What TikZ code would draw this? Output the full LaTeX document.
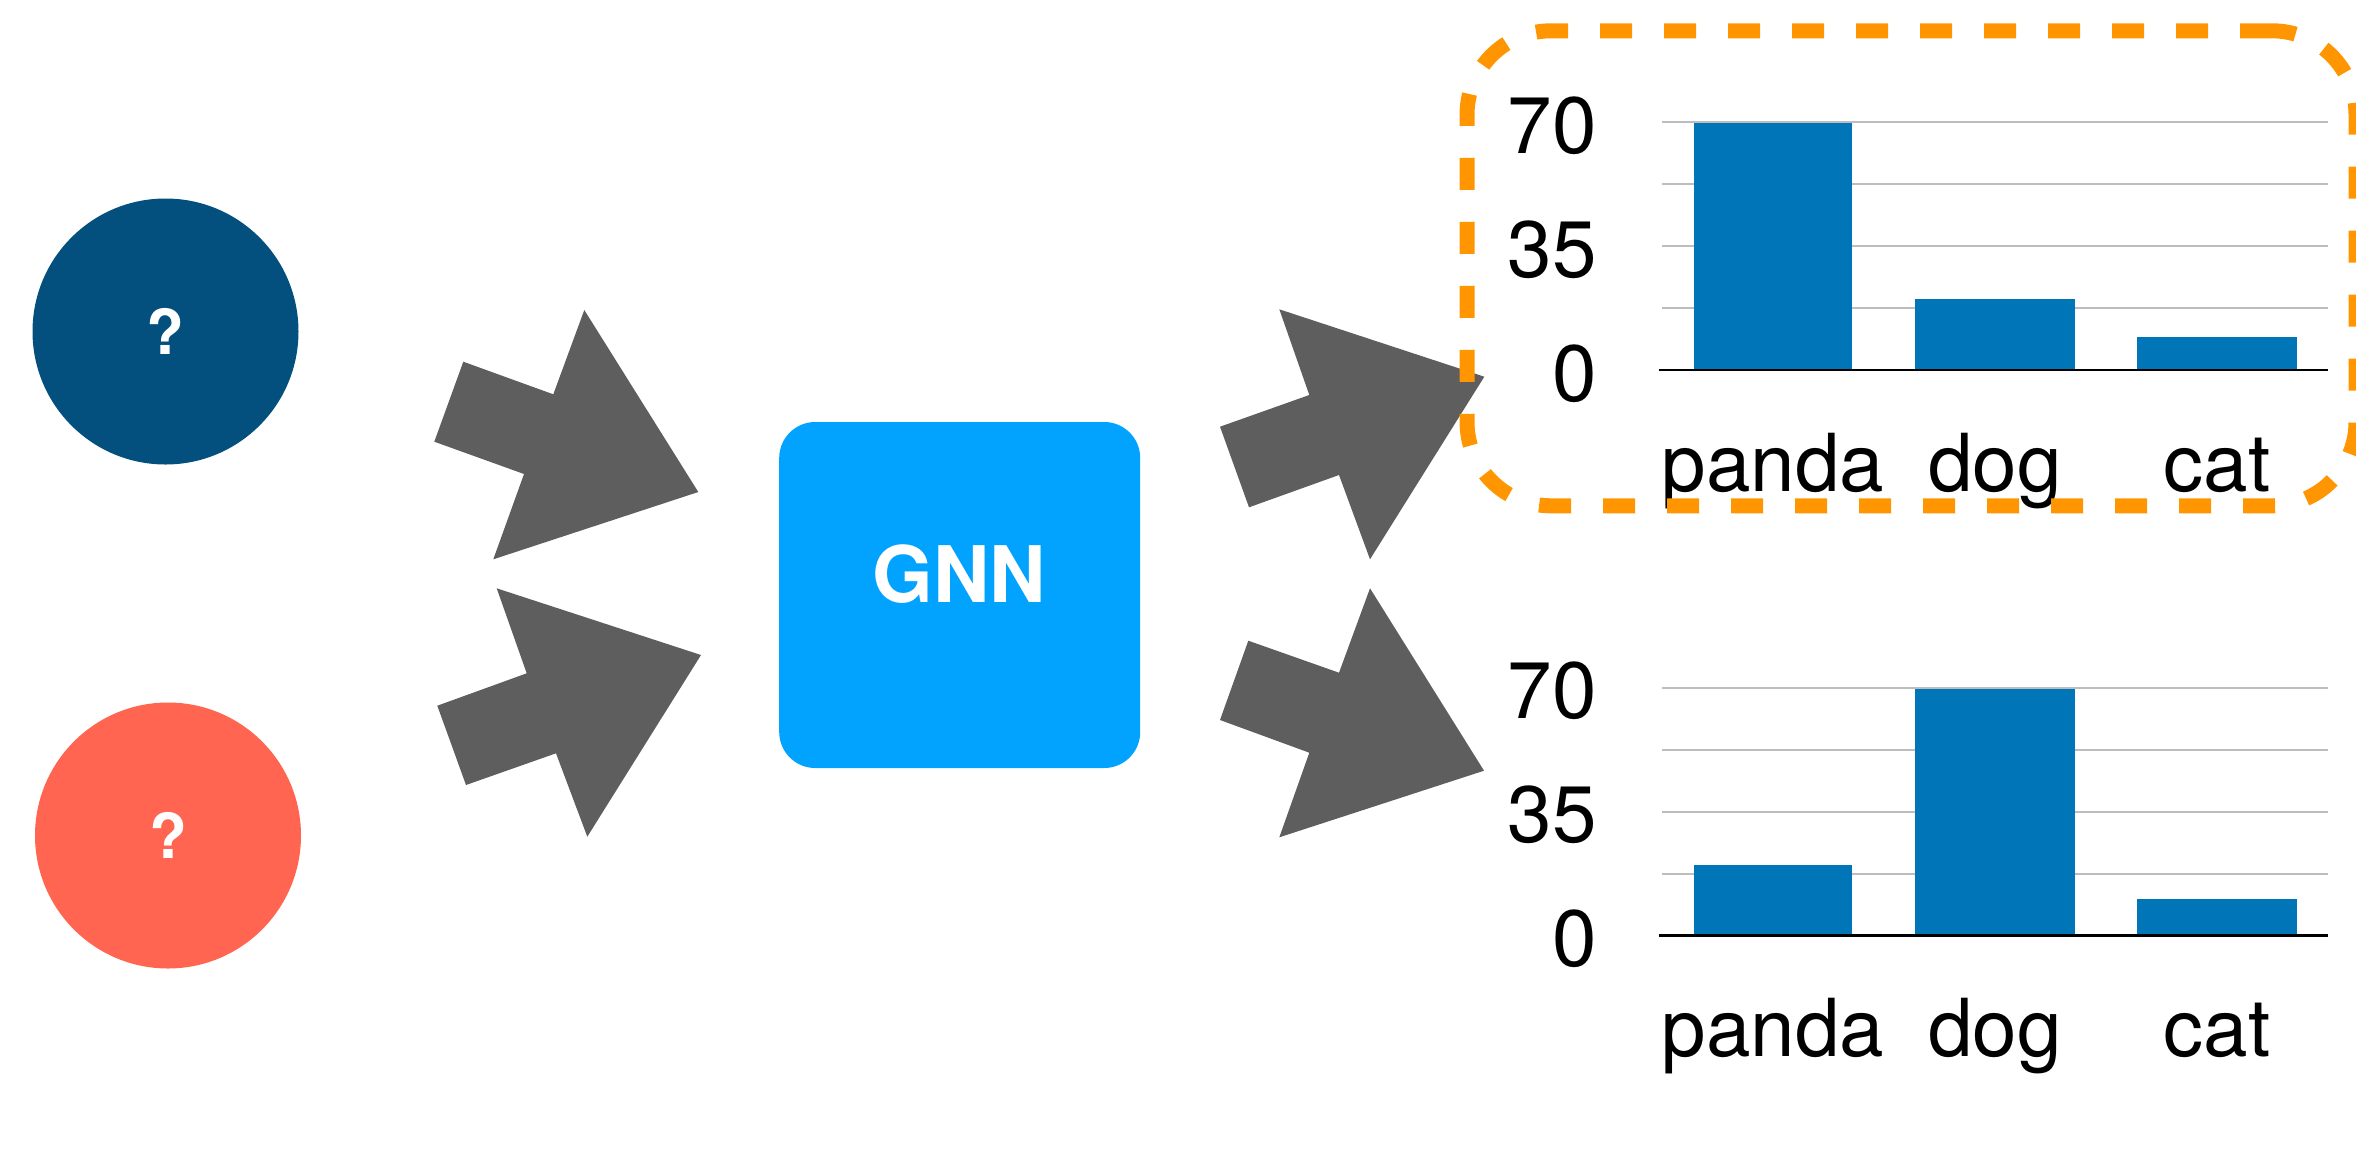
\documentclass[tikz,border=0pt]{standalone}
\usepackage{fontspec}
\setmainfont{TeX Gyre Heros}

\definecolor{navy}{HTML}{03507F}
\definecolor{coral}{HTML}{FF6550}
\definecolor{gnnblue}{HTML}{02A3FF}
\definecolor{arrowgray}{HTML}{5E5E5E}
\definecolor{barblue}{HTML}{0075B8}
\definecolor{gridgray}{HTML}{BDBDBD}
\definecolor{dashorange}{HTML}{FF9500}

\tikzset{
  ball/.style={circle, minimum size=133pt, inner sep=0pt, text=white,
               font=\fontsize{31}{31}\selectfont\bfseries},
  gnnbox/.style={rectangle, fill=gnnblue, rounded corners=18pt,
                 minimum width=180.5pt, minimum height=173pt, inner sep=0pt},
  gnntext/.style={anchor=base, inner sep=0pt, text=white,
                  font=\fontsize{39}{39}\selectfont\bfseries},
  blockarrow/.style={fill=arrowgray},
  gridline/.style={draw=gridgray, line width=1pt},
  axisline/.style={draw=black, line width=1.3pt},
  barfill/.style={fill=barblue},
  ylab/.style={anchor=base east, inner sep=0pt, font=\fontsize{40}{40}\selectfont},
  xlab/.style={anchor=base, inner sep=0pt, font=\fontsize{40}{40}\selectfont},
  dashframe/.style={rectangle, draw=dashorange, line width=7.5pt,
                    dash pattern=on 16pt off 16pt, rounded corners=42pt,
                    minimum width=444.5pt, minimum height=237.5pt, inner sep=0pt}
}

% one bar chart: #1 name prefix, #2 vertical offset (px),
% #3-#5 bar heights (px) for panda, dog and cat
\newcommand\drawbarchart[5]{%
  \begin{scope}[shift={(0,#2)}, name prefix=#1-]
    \foreach \g in {122,184,246,308}
      \draw[gridline] (1662,\g) -- (2328,\g);
    \fill[barfill] (1694,370) rectangle (1852,370-#3);
    \fill[barfill] (1915,370) rectangle (2075,370-#4);
    \fill[barfill] (2137,370) rectangle (2297,370-#5);
    \draw[axisline] (1659,370) -- (2328,370);
    \node[ylab] (t70) at (1597,153) {70};
    \node[ylab] (t35) at (1597,277) {35};
    \node[ylab] (t0)  at (1597,401) {0};
    \node[xlab] (panda) at (1773,491) {panda};
    \node[xlab] (dog)   at (1995,491) {dog};
    \node[xlab] (cat)   at (2217,491) {cat};
  \end{scope}}

\begin{document}
\begin{tikzpicture}[x=0.5pt, y=-0.5pt]
  \useasboundingbox (0,0) rectangle (2356,1163);

  % input nodes
  \node[ball, fill=navy]  (q1) at (165.5,331.5) {?};
  \node[ball, fill=coral] (q2) at (168,835.5) {?};

  % model
  \node[gnnbox] (gnn) at (959.7,595) {};
  \node[gnntext] (gnnlabel) at (959.5,602) {GNN};

  % block arrows into the model
  \fill[blockarrow] (463.3,361.7) -- (553.3,394.3) -- (584.3,310) -- (698.3,492)
    -- (493.3,559.3) -- (524,474) -- (434.3,441.7) -- cycle;
  \fill[blockarrow] (437.3,705.7) -- (526.7,673.3) -- (496.7,588.3) -- (701,655)
    -- (587.3,836.7) -- (556,753.3) -- (466,785) -- cycle;

  % block arrows out of the model
  \fill[blockarrow] (1220,426.7) -- (1309.3,395) -- (1279.3,309.3) -- (1484.3,376.7)
    -- (1370,559.3) -- (1339,475) -- (1249,507.3) -- cycle;
  \fill[blockarrow] (1248.3,640.7) -- (1339,672.7) -- (1370,588.3) -- (1484,770.7)
    -- (1279.3,837.3) -- (1309.3,752.7) -- (1220,720) -- cycle;

  % predicted class scores
  \drawbarchart{top}{0}{247}{71}{33}
  \drawbarchart{bottom}{565.5}{70.7}{246.7}{36.7}

  % highlight around the first prediction
  \node[dashframe] (frame) at (1911.5,268.3) {};
\end{tikzpicture}
\end{document}
